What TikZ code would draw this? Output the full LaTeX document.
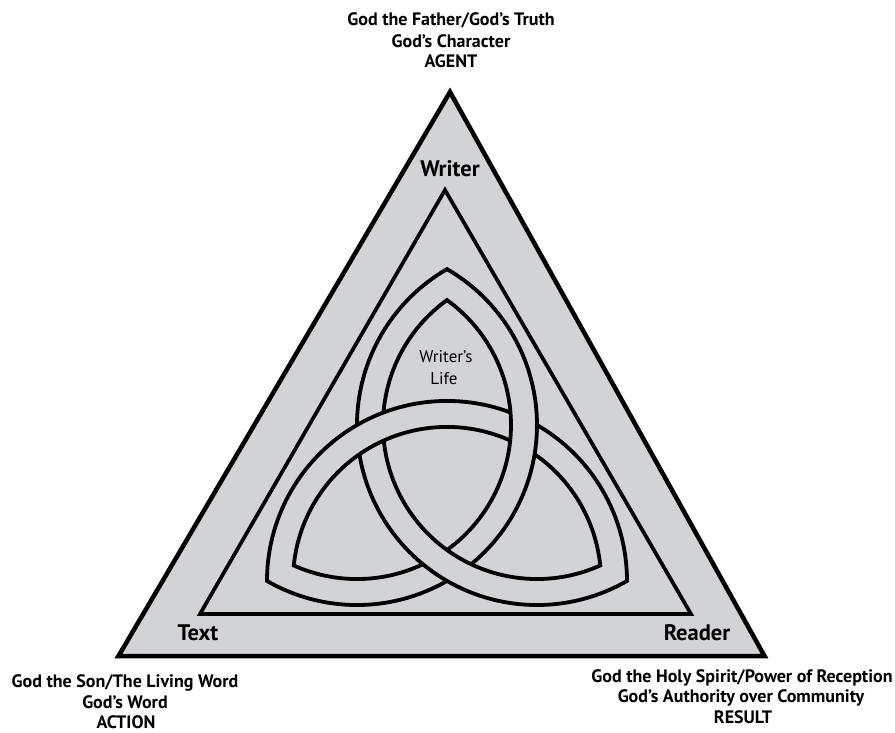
\documentclass[tikz,border=0pt]{standalone}
\usepackage{fontspec}
\setmainfont{PT Sans}
\definecolor{bandgray}{RGB}{209,211,212}
\begin{document}
\begin{tikzpicture}[x=1pt,y=1pt,
  tri/.style={draw=black, line width=4.5pt, line join=miter},
  innertri/.style={draw=black, line width=3.7pt, line join=miter},
  knot/.style={draw=black, line width=3.8pt, line join=miter, line cap=butt},
  lbl/.style={font=\bfseries\fontsize{18}{21.5}\selectfont, inner sep=0pt, anchor=base},
  corner/.style={font=\bfseries\fontsize{22.5}{26}\selectfont, inner sep=0pt, anchor=base},
  life/.style={font=\fontsize{17}{22}\selectfont, inner sep=0pt, anchor=base}]
\useasboundingbox (0,0) rectangle (895,732);
\def\RR{180}
\def\rr{154}
% outer and inner triangles
\coordinate (A) at (450,640);
\coordinate (B) at (118.5,76);
\coordinate (C) at (764.5,76);
\coordinate (A2) at (445,542);
\coordinate (B2) at (200,118);
\coordinate (C2) at (691,118);
\filldraw[fill=bandgray, tri] (A) -- (B) -- (C) -- cycle;
\draw[innertri] (A2) -- (B2) -- (C2) -- cycle;
% circle centres of the knot
\coordinate (K1) at (357,306.96);
\coordinate (K2) at (537,306.96);
\coordinate (K3) at (447,151.08);
% outer edge of the band
\draw[knot] ([shift={(K2)}]189.35:\RR) arc[start angle=189.35, end angle=300, radius=\RR]
  arc[start angle=0, end angle=60, radius=\RR];
\draw[knot] ([shift={(K3)}]69.35:\RR) arc[start angle=69.35, end angle=180, radius=\RR]
  arc[start angle=240, end angle=300, radius=\RR];
\draw[knot] ([shift={(K1)}]-50.65:\RR) arc[start angle=-50.65, end angle=60, radius=\RR]
  arc[start angle=120, end angle=180, radius=\RR];
% inner edge of the band
\draw[knot] ([shift={(K2)}]185.76:\rr) arc[start angle=185.76, end angle=294.24, radius=\rr]
  arc[start angle=5.76, end angle=55.33, radius=\rr];
\draw[knot] ([shift={(K3)}]65.76:\rr) arc[start angle=65.76, end angle=174.24, radius=\rr]
  arc[start angle=245.76, end angle=295.33, radius=\rr];
\draw[knot] ([shift={(K1)}]-54.24:\rr) arc[start angle=-54.24, end angle=54.24, radius=\rr]
  arc[start angle=125.76, end angle=175.33, radius=\rr];
% labels
\node[lbl] (top1) at (451,706) {God the Father/God’s Truth};
\node[lbl] (top2) at (451,684.5) {God’s Character};
\node[lbl] (top3) at (451,664) {AGENT};
\node[lbl] (bl1) at (125,44.5) {God the Son/The Living Word};
\node[lbl] (bl2) at (125,24) {God’s Word};
\node[lbl] (bl3) at (126,3.5) {ACTION};
\node[lbl] (br1) at (742,50) {God the Holy Spirit/Power of Reception};
\node[lbl] (br2) at (741,29.5) {God’s Authority over Community};
\node[lbl] (br3) at (743,9) {RESULT};
\node[corner] (writer) at (450,555) {Writer};
\node[corner] (text) at (198,92) {Text};
\node[corner] (reader) at (697,92) {Reader};
\node[life] (wlife1) at (446,369) {Writer’s};
\node[life] (wlife2) at (444,347) {Life};
\end{tikzpicture}
\end{document}
